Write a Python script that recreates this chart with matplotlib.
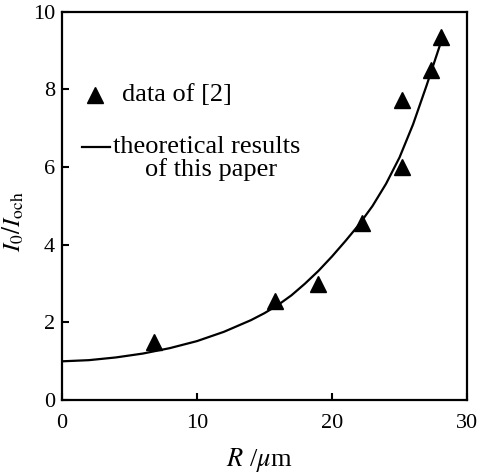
import numpy as np
import matplotlib
matplotlib.use("Agg")
import matplotlib.pyplot as plt

# measured data (triangles)
DATA_R = [6.8, 15.8, 19.0, 22.2, 25.2, 25.2, 27.3, 28.1]
DATA_I = [1.5, 2.55, 3.0, 4.55, 6.0, 7.73, 8.5, 9.36]

# theoretical curve
CURVE_R = [0, 2, 4, 6, 8, 10, 12, 14, 15, 16, 17, 18, 19, 20, 21, 22, 23,
           24, 25, 26, 27, 28, 28.2]
CURVE_I = [1.0, 1.03, 1.1, 1.2, 1.34, 1.52, 1.76, 2.06, 2.24, 2.45, 2.7,
           3.0, 3.33, 3.7, 4.1, 4.52, 5.0, 5.57, 6.25, 7.1, 8.1, 9.15, 9.36]

X_TICKS = [0, 10, 20, 30]
Y_TICKS = [0, 2, 4, 6, 8, 10]

plt.rcParams['font.family'] = ['Liberation Serif', 'DejaVu Serif']
plt.rcParams['mathtext.fontset'] = 'stix'


def main():
    fig = plt.figure(figsize=(4.83, 4.73), dpi=100)
    ax = fig.add_axes([0.128, 0.154, 0.839, 0.821])

    ax.plot(CURVE_R, CURVE_I, color='black', lw=1.6)
    ax.plot(DATA_R, DATA_I, '^', color='black', markersize=12)

    ax.set_xlim(0, 30)
    ax.set_ylim(0, 10)
    ax.set_xticks(X_TICKS)
    ax.set_yticks(Y_TICKS)
    ax.tick_params(direction='in', length=5, width=1.5, labelsize=16)
    ax.tick_params(axis='x', pad=10)
    ax.tick_params(axis='y', pad=5)
    for sp in ax.spines.values():
        sp.set_linewidth(1.6)

    ax.set_xlabel(r'$R$ /$\mu$m', fontsize=19)
    ax.xaxis.set_label_coords(0.486, -0.118)
    ax.set_ylabel(r'$I_0/I_{\rm och}$', fontsize=18)
    ax.yaxis.set_label_coords(-0.088, 0.459)

    # hand-made legend
    ax.plot([0.081], [0.786], '^', color='black', markersize=12,
            transform=ax.transAxes, clip_on=False)
    ax.text(0.148, 0.786, 'data of [2]', fontsize=19, va='center',
            transform=ax.transAxes)
    ax.plot([0.049, 0.119], [0.652, 0.652], color='black', lw=1.6,
            transform=ax.transAxes)
    ax.text(0.126, 0.652, 'theoretical results', fontsize=19, va='center',
            transform=ax.transAxes)
    ax.text(0.205, 0.593, 'of this paper', fontsize=19, va='center',
            transform=ax.transAxes)

    fig.savefig('out.png', dpi=100)


if __name__ == "__main__":
    main()
